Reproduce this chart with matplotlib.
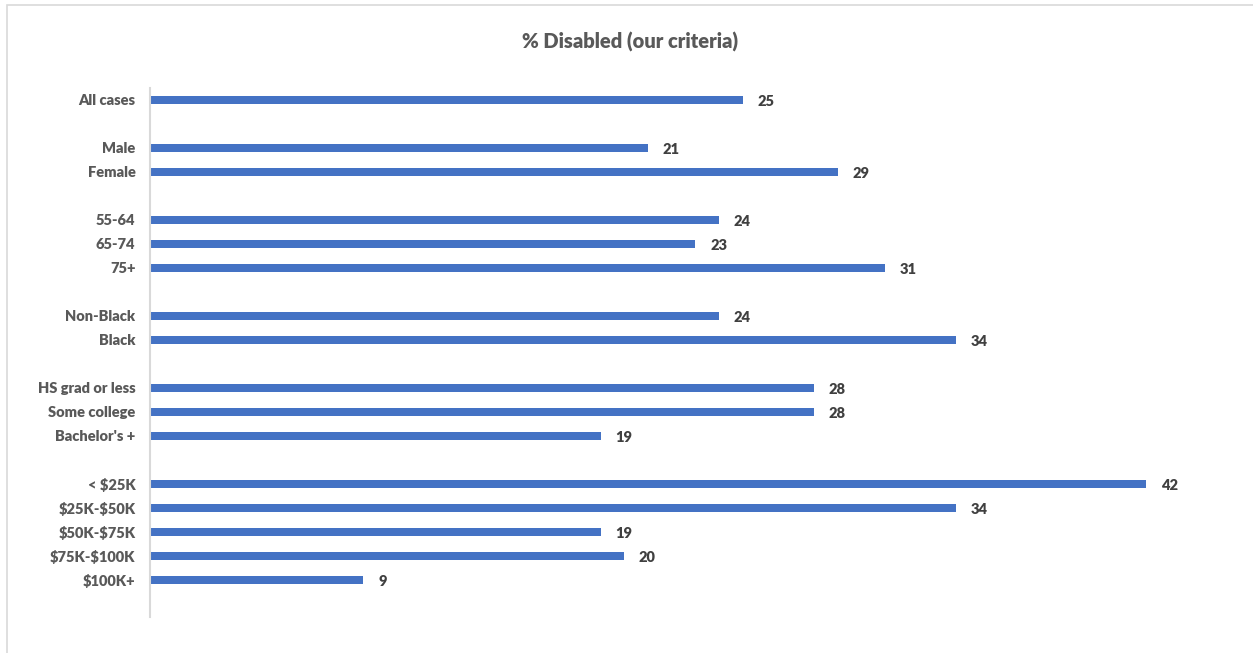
import matplotlib.pyplot as plt
from matplotlib.patches import Rectangle

# rows top to bottom, "" marks a gap row between groups
categories = ["All cases", "",
              "Male", "Female", "",
              "55-64", "65-74", "75+", "",
              "Non-Black", "Black", "",
              "HS grad or less", "Some college", "Bachelor's +", "",
              "< $25K", "$25K-$50K", "$50K-$75K", "$75K-$100K", "$100K+"]
values = [25, None,
          21, 29, None,
          24, 23, 31, None,
          24, 34, None,
          28, 28, 19, None,
          42, 34, 19, 20, 9]

plt.rcParams['font.family'] = ['Lato', 'DejaVu Sans']
plt.rcParams['text.parse_math'] = False

W, H = 1253, 653
fig = plt.figure(figsize=(W / 100, H / 100), dpi=100)

# light chart border (only top/left visible in the original)
fig.patches.append(Rectangle((7 / W, -0.1), 1.2, (H - 5) / H + 0.1, transform=fig.transFigure,
                             fill=False, edgecolor="#d9d9d9", linewidth=1.2))

ax = fig.add_axes([150 / W, (H - 617) / H, (1146 - 150) / W, (617 - 88) / H])

ys = [i for i, v in enumerate(values) if v is not None]
vals = [v for v in values if v is not None]
ax.barh(ys, vals, height=0.34, color="#4472c4")

for y, v in zip(ys, vals):
    ax.annotate(str(v), (v, y), xytext=(10.5, -1), textcoords="offset points",
                ha="left", va="center", fontsize=10.5, fontweight="heavy",
                color="#404040", annotation_clip=False)

ax.set_xlim(0, 42)
ax.set_ylim(21.55, -0.5)
ax.set_yticks(range(len(categories)))
ax.set_yticklabels(categories, fontsize=10.5, fontweight="heavy", color="#595959")
ax.tick_params(axis="y", length=0, pad=10.5)
ax.set_xticks([])

for s in ["top", "right", "bottom"]:
    ax.spines[s].set_visible(False)
ax.spines["left"].set_color("#d9d9d9")
ax.spines["left"].set_linewidth(1.5)

fig.text(630 / W, 1 - 42 / H, "% Disabled (our criteria)", ha="center", va="center",
         fontsize=14.5, fontweight="heavy", color="#595959")

fig.savefig("out.png", dpi=100)
